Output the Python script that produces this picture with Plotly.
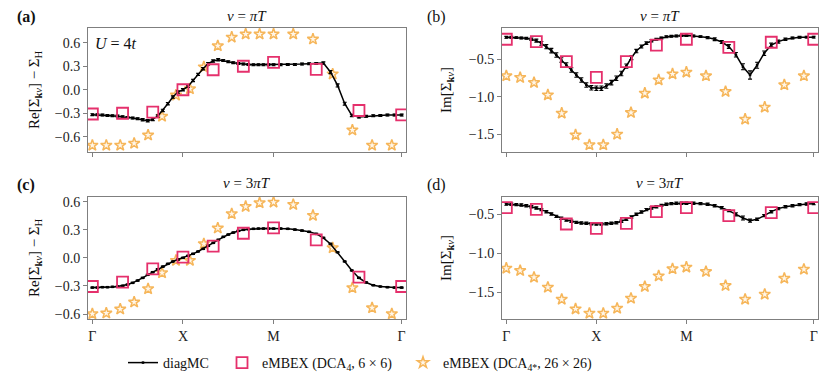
import numpy as np
import plotly.graph_objects as go

SQ2 = np.sqrt(2)

# ---- k-path coordinates (Gamma -> X -> M -> Gamma) ----
x_mc = np.concatenate([np.arange(19) / 18, 1 + np.arange(1, 19) / 18, 2 + SQ2 * np.arange(1, 19) / 18])
x_sq = np.concatenate([np.arange(4) / 3, 1 + np.arange(1, 4) / 3, 2 + SQ2 * np.arange(1, 4) / 3])
x_st = np.concatenate([2 * np.arange(7) / 13, 1 + (2 * np.arange(6) + 1) / 13, [2.0], 2 + SQ2 * 2 * np.arange(1, 7) / 13])

tick_vals = [0, 1, 2, 2 + SQ2]
tick_text = ["Γ", "X", "M", "Γ"]

# ---- data: diagMC ----
a_mc = [-0.319, -0.319, -0.323, -0.328, -0.332, -0.336, -0.345, -0.353, -0.362, -0.370, -0.383, -0.396, -0.379, -0.336, -0.264, -0.179, -0.094, -0.030, 0.000,
        0.043, 0.119, 0.196, 0.268, 0.332, 0.366, 0.383, 0.374, 0.357, 0.345, 0.336, 0.328, 0.323, 0.319, 0.319, 0.319, 0.319, 0.319,
        0.319, 0.323, 0.323, 0.328, 0.332, 0.336, 0.340, 0.226, 0.055, -0.179, -0.328, -0.349, -0.340, -0.332, -0.328, -0.323, -0.323, -0.323]
a_mc_err = [0.012] * 10 + [0.015] * 9 + [0.015] * 7 + [0.012] * 11 + [0.012] * 6 + [0.015, 0.02, 0.02, 0.02, 0.015] + [0.012] * 7

b_mc = [-0.207, -0.207, -0.211, -0.216, -0.220, -0.233, -0.251, -0.287, -0.331, -0.384, -0.442, -0.509, -0.576, -0.642, -0.709, -0.776, -0.842, -0.880, -0.887,
        -0.887, -0.856, -0.811, -0.753, -0.690, -0.590, -0.480, -0.390, -0.330, -0.285, -0.255, -0.233, -0.216, -0.200, -0.193, -0.189, -0.184, -0.184,
        -0.189, -0.198, -0.211, -0.233, -0.270, -0.330, -0.440, -0.600, -0.709, -0.580, -0.420, -0.310, -0.264, -0.233, -0.216, -0.207, -0.205, -0.205]
b_mc_err = [0.012, 0.012, 0.012, 0.012, 0.012, 0.015, 0.02, 0.025, 0.028, 0.03, 0.03, 0.03, 0.03, 0.03, 0.03, 0.03, 0.03, 0.03, 0.03,
            0.03, 0.03, 0.03, 0.03, 0.03, 0.028, 0.025, 0.022, 0.02, 0.018, 0.015, 0.012, 0.012, 0.012, 0.012, 0.012, 0.012, 0.012,
            0.012, 0.012, 0.015, 0.018, 0.02, 0.025, 0.03, 0.04, 0.055, 0.04, 0.03, 0.025, 0.02, 0.015, 0.012, 0.012, 0.012, 0.012]

c_mc = [-0.317, -0.317, -0.313, -0.313, -0.310, -0.306, -0.299, -0.285, -0.267, -0.242, -0.214, -0.181, -0.153, -0.121, -0.093, -0.064, -0.039, -0.018, 0.000,
        0.021, 0.043, 0.068, 0.096, 0.128, 0.160, 0.192, 0.224, 0.249, 0.270, 0.288, 0.299, 0.306, 0.310, 0.313, 0.313, 0.313, 0.313,
        0.313, 0.310, 0.302, 0.292, 0.278, 0.256, 0.214, 0.149, 0.060, -0.039, -0.135, -0.214, -0.263, -0.292, -0.306, -0.313, -0.317, -0.317]
c_mc_err = [0.006] * 55

d_mc = [-0.368, -0.372, -0.376, -0.380, -0.389, -0.402, -0.419, -0.440, -0.466, -0.496, -0.526, -0.551, -0.573, -0.590, -0.603, -0.611, -0.615, -0.620, -0.624,
        -0.624, -0.620, -0.615, -0.607, -0.590, -0.564, -0.534, -0.500, -0.470, -0.440, -0.419, -0.402, -0.385, -0.372, -0.363, -0.359, -0.359, -0.359,
        -0.359, -0.363, -0.372, -0.389, -0.415, -0.453, -0.500, -0.547, -0.581, -0.564, -0.517, -0.466, -0.427, -0.402, -0.389, -0.376, -0.368, -0.363]
d_mc_err = [0.015] * 43 + [0.02, 0.025, 0.02] + [0.015] * 9

# ---- data: eMBEX (DCA4, 6x6) ----
a_sq = [-0.31, -0.30, -0.285, 0.00, 0.255, 0.30, 0.35, 0.26, -0.265, -0.32]
b_sq = [-0.233, -0.264, -0.53, -0.74, -0.53, -0.31, -0.233, -0.34, -0.273, -0.233]
c_sq = [-0.306, -0.26, -0.117, 0.007, 0.125, 0.263, 0.32, 0.192, -0.206, -0.306]
d_sq = [-0.415, -0.436, -0.624, -0.68, -0.615, -0.466, -0.415, -0.517, -0.479, -0.415]

# ---- data: eMBEX (DCA4*, 26x26) ----
a_st = [-0.71, -0.71, -0.71, -0.685, -0.58, -0.34, -0.07, 0.01, 0.29, 0.56, 0.67, 0.71, 0.71, 0.71, 0.71, 0.645, 0.20, -0.515, -0.71, -0.71]
b_st = [-0.722, -0.744, -0.811, -0.976, -1.22, -1.509, -1.642, -1.642, -1.50, -1.211, -0.953, -0.776, -0.696, -0.673, -0.722, -0.931, -1.30, -1.14, -0.842, -0.722]
c_st = [-0.598, -0.591, -0.548, -0.473, -0.331, -0.16, -0.028, -0.028, 0.15, 0.317, 0.47, 0.548, 0.587, 0.594, 0.569, 0.452, 0.107, -0.32, -0.534, -0.598]
d_st = [-1.192, -1.222, -1.308, -1.436, -1.59, -1.714, -1.769, -1.769, -1.705, -1.577, -1.427, -1.291, -1.20, -1.179, -1.235, -1.415, -1.59, -1.526, -1.321, -1.205]

FONT = "Liberation Serif"
BLACK = "#000000"
PINK = "#E5306C"
ORANGE = "#F6B65A"
STARFILL = "#FFF6E8"
FRAME = "#7f7f7f"

W, H = 830, 386
ML, MR, MT, MB = 88, 12, 28, 67
PW, PH = W - ML - MR, H - MT - MB


def px(x):
    return (x - ML) / PW


def py(y):
    return (H - MB - y) / PH


fig = go.Figure()

panels = [
    ("x", "y", a_mc, a_mc_err, a_sq, a_st),
    ("x2", "y2", b_mc, b_mc_err, b_sq, b_st),
    ("x3", "y3", c_mc, c_mc_err, c_sq, c_st),
    ("x4", "y4", d_mc, d_mc_err, d_sq, d_st),
]

for i, (xa, ya, mc, mce, sq, st) in enumerate(panels):
    first = i == 0
    fig.add_trace(go.Scatter(
        x=x_st, y=st, mode="markers", name="eMBEX (DCA<sub>4*</sub>, 26 × 26)",
        marker=dict(symbol="star", size=8.5, color=STARFILL, line=dict(color=ORANGE, width=1.5)),
        xaxis=xa, yaxis=ya, showlegend=first, legend="legend3"))
    fig.add_trace(go.Scatter(
        x=x_mc, y=mc, mode="lines+markers", name="diagMC",
        line=dict(color=BLACK, width=1.5),
        marker=dict(symbol="square", size=2.5, color=BLACK),
        error_y=dict(type="data", array=mce, visible=True, color=BLACK, thickness=1.1, width=2),
        xaxis=xa, yaxis=ya, showlegend=first, legend="legend"))
    fig.add_trace(go.Scatter(
        x=x_sq, y=sq, mode="markers", name="eMBEX (DCA<sub>4</sub>, 6 × 6)",
        marker=dict(symbol="square-open", size=11, color=PINK, line=dict(color=PINK, width=1.8)),
        xaxis=xa, yaxis=ya, showlegend=first, legend="legend2"))

xdom_l = [0, px(406)]
xdom_r = [px(502), 1]
ydom_t = [py(152), 1]
ydom_b = [0, py(197)]

common_x = dict(range=[-0.048, 3.462], tickvals=tick_vals, ticktext=tick_text,
                ticks="outside", ticklen=4, tickcolor=FRAME, showline=True, linecolor=FRAME,
                linewidth=1, mirror=True, showgrid=False, zeroline=False, ticklabeloverflow="allow",
                tickfont=dict(family=FONT, size=14, color="#222"))
common_y = dict(ticks="outside", ticklen=4, tickcolor=FRAME, showline=True, linecolor=FRAME,
                linewidth=1, mirror=True, showgrid=False, zeroline=False,
                tickfont=dict(family=FONT, size=14, color="#222"))

fig.update_layout(
    xaxis=dict(domain=xdom_l, anchor="y", showticklabels=False, **common_x),
    xaxis2=dict(domain=xdom_r, anchor="y2", showticklabels=False, **common_x),
    xaxis3=dict(domain=xdom_l, anchor="y3", **common_x),
    xaxis4=dict(domain=xdom_r, anchor="y4", **common_x),
    yaxis=dict(domain=ydom_t, anchor="x", range=[-0.795, 0.788], tickvals=[-0.6, -0.3, 0, 0.3, 0.6],
               ticktext=["−0.6", "−0.3", "0.0", "0.3", "0.6"], **common_y),
    yaxis2=dict(domain=ydom_t, anchor="x2", range=[-1.736, -0.083], tickvals=[-1.5, -1.0, -0.5],
                ticktext=["−1.5", "−1.0", "−0.5"], **common_y),
    yaxis3=dict(domain=ydom_b, anchor="x3", range=[-0.653, 0.65], tickvals=[-0.6, -0.3, 0, 0.3, 0.6],
                ticktext=["−0.6", "−0.3", "0.0", "0.3", "0.6"], **common_y),
    yaxis4=dict(domain=ydom_b, anchor="x4", range=[-1.842, -0.278], tickvals=[-1.5, -1.0, -0.5],
                ticktext=["−1.5", "−1.0", "−0.5"], **common_y),
    width=W, height=H,
    margin=dict(l=ML, r=MR, t=MT, b=MB, autoexpand=False),
    paper_bgcolor="white", plot_bgcolor="white",
    font=dict(family=FONT, size=14, color="#111"),
)

leg_common = dict(orientation="h", yanchor="middle", xanchor="left", bgcolor="rgba(0,0,0,0)",
                  font=dict(family=FONT, size=14, color="#111"), borderwidth=0)
fig.update_layout(
    legend=dict(x=px(123), y=py(363), **leg_common),
    legend2=dict(x=px(222), y=py(363), **leg_common),
    legend3=dict(x=px(403), y=py(363), **leg_common),
)

ann = []
def add_text(text, x, y, size=15, xanchor="center", angle=0):
    ann.append(dict(text=text, x=px(x), y=py(y), xref="paper", yref="paper", showarrow=False,
                    xanchor=xanchor, yanchor="middle", textangle=angle,
                    font=dict(family=FONT, size=size, color="#111")))

add_text("<b>(a)</b>", 26, 17, 16)
add_text("(b)", 436, 17, 16)
add_text("<b>(c)</b>", 26, 185, 16)
add_text("(d)", 436, 185, 16)
add_text("<i>ν</i> = <i>πT</i>", 247, 16, 15)
add_text("<i>ν</i> = <i>πT</i>", 660, 16, 15)
add_text("<i>ν</i> = 3<i>πT</i>", 247, 183, 15)
add_text("<i>ν</i> = 3<i>πT</i>", 660, 183, 15)
add_text("<i>U</i> = 4<i>t</i>", 93, 43, 16, xanchor="left")
ylab_re = "Re[Σ<sub><b>k</b><i>ν</i></sub>] − Σ<sub>H</sub>"
ylab_im = "Im[Σ<sub><b>k</b><i>ν</i></sub>]"
add_text(ylab_re, 35, 90, 15, angle=-90)
add_text(ylab_im, 447, 90, 15, angle=-90)
add_text(ylab_re, 35, 258, 15, angle=-90)
add_text(ylab_im, 447, 258, 15, angle=-90)
fig.update_layout(annotations=ann)

# remove the default 8px page margin so the figure sits at the window origin
fig.write_html("out.html", config={"displayModeBar": False},
               post_script="document.body.style.margin='0';")
